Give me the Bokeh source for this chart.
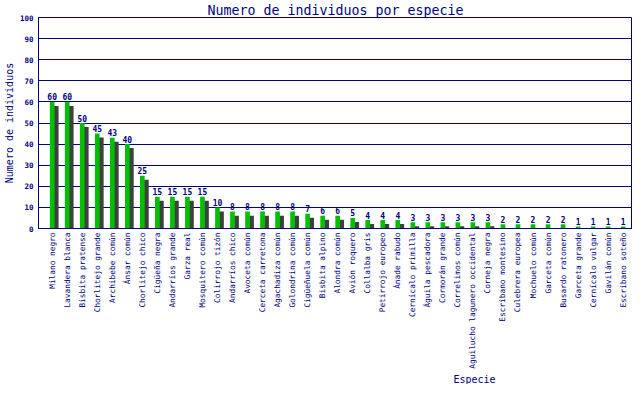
import math
from bokeh.plotting import figure
from bokeh.models import Range1d, FixedTicker, Title, ColumnDataSource
from bokeh.core.properties import value
from bokeh.embed import file_html
from bokeh.resources import INLINE

especies = [
    "Milano negro", "Lavandera blanca", "Bisbita pratense", "Chorlitejo grande",
    "Archibebe común", "Ánsar común", "Chorlitejo chico", "Cigüeña negra",
    "Andarríos grande", "Garza real", "Mosquitero común", "Colirrojo tizón",
    "Andarríos chico", "Avoceta común", "Cerceta carretona", "Agachadiza común",
    "Golondrina común", "Cigüeñuela común", "Bisbita alpino", "Alondra común",
    "Avión roquero", "Collalba gris", "Petirrojo europeo", "Ánade rabudo",
    "Cernícalo primilla", "Águila pescadora", "Cormorán grande", "Correlimos común",
    "Aguilucho lagunero occidental", "Corneja negra", "Escribano montesino",
    "Culebrera europea", "Mochuelo común", "Garceta común", "Busardo ratonero",
    "Garceta grande", "Cernícalo vulgar", "Gavilán común", "Escribano soteño",
]
individuos = [60, 60, 50, 45, 43, 40, 25, 15, 15, 15, 15, 10, 8, 8, 8, 8, 8, 7, 6, 6,
              5, 4, 4, 4, 3, 3, 3, 3, 3, 3, 2, 2, 2, 2, 2, 1, 1, 1, 1]
y_ticks = [0, 10, 20, 30, 40, 50, 60, 70, 80, 90, 100]

NAVY = "#000080"
GREEN = "#00C000"
SHADOW = "#404040"
MONO = "DejaVu Sans Mono"

xs = list(range(len(especies)))
SH_DX = 0.27   # shadow shift (data units along x, ~4px)
SH_DY = 1.9    # shadow shift (data units along y, ~4px)

src = ColumnDataSource(dict(
    x=xs,
    xs=[x + SH_DX for x in xs],
    top=individuos,
    stop=[v - SH_DY for v in individuos],
    lbl=[str(v) for v in individuos],
))

p = figure(width=632, height=384, output_backend="svg", toolbar_location=None,
           x_range=Range1d(-0.91, 38.62), y_range=Range1d(0, 100),
           min_border_left=0, min_border_right=0, min_border_top=0, min_border_bottom=0)

p.title.text = "Numero de individuos por especie"
p.title.align = "center"
p.title.text_font = MONO
p.title.text_font_size = "13.3px"
p.title.text_font_style = "normal"
p.title.text_color = NAVY
p.title.standoff = 0

p.background_fill_color = "white"
p.border_fill_color = "white"
p.outline_line_color = NAVY
p.outline_line_width = 1

# shadow bars then green bars
p.vbar(x="xs", top="stop", bottom=0, width=0.31, source=src,
       fill_color=SHADOW, line_color=None)
p.vbar(x="x", top="top", bottom=0, width=0.31, source=src,
       fill_color=GREEN, line_color=None)

p.text(x="x", y="top", text="lbl", source=src, text_align="center",
       text_baseline="alphabetic", y_offset=-5,
       text_font=value(MONO), text_font_size="8px", text_font_style="bold",
       text_color=NAVY)

# y axis
p.yaxis.ticker = FixedTicker(ticks=y_ticks)
p.yaxis.axis_label = "Numero de individuos"
p.yaxis.axis_label_text_font = MONO
p.yaxis.axis_label_text_font_size = "10px"
p.yaxis.axis_label_text_font_style = "normal"
p.yaxis.axis_label_text_color = NAVY
p.yaxis.axis_label_standoff = 2
p.yaxis.major_label_text_font = MONO
p.yaxis.major_label_text_font_size = "7.5px"
p.yaxis.major_label_text_font_style = "bold"
p.yaxis.major_label_text_color = NAVY
p.yaxis.major_label_standoff = 5
p.yaxis.major_tick_out = 0
p.yaxis.major_tick_in = 0
p.yaxis.minor_tick_out = 0
p.yaxis.minor_tick_in = 0
p.yaxis.axis_line_color = NAVY

# x axis
p.xaxis.ticker = FixedTicker(ticks=xs)
p.xaxis.major_label_overrides = {i: n for i, n in enumerate(especies)}
p.xaxis.major_label_orientation = math.pi / 2
p.xaxis.major_label_text_font = MONO
p.xaxis.major_label_text_font_size = "7.8px"
p.xaxis.major_label_text_color = NAVY
p.xaxis.major_label_standoff = 4
p.xaxis.axis_label_standoff = 0
p.xaxis.major_tick_out = 0
p.xaxis.major_tick_in = 0
p.xaxis.minor_tick_out = 0
p.xaxis.minor_tick_in = 0
p.xaxis.axis_line_color = NAVY

p.add_layout(Title(text="Especie", align="left", offset=415,
                   text_font=MONO, text_font_size="10px",
                   text_font_style="normal", text_color=NAVY, standoff=0), "below")

p.xgrid.grid_line_color = None
p.ygrid.grid_line_color = NAVY
p.ygrid.grid_line_width = 1

open("out.html", "w").write(file_html(p, INLINE))
